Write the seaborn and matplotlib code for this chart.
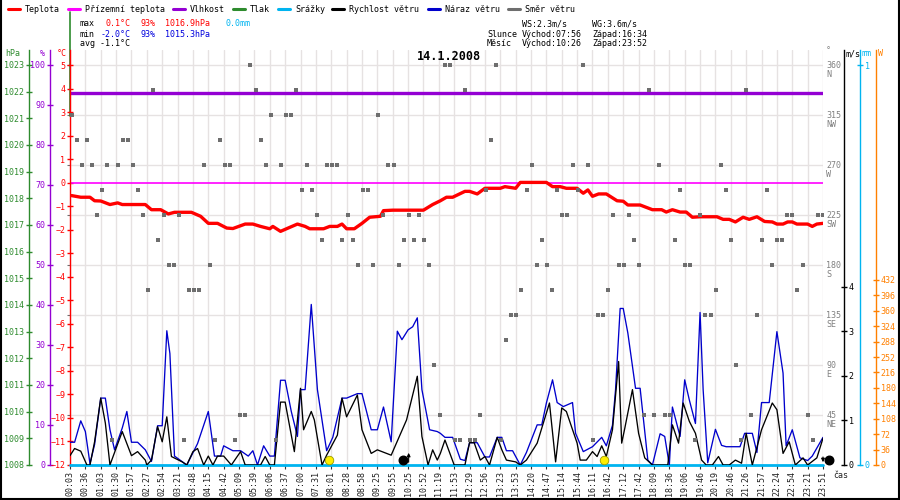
import numpy as np
import matplotlib
matplotlib.use("Agg")
import matplotlib.pyplot as plt
import matplotlib.transforms as mtransforms
from matplotlib.lines import Line2D
import seaborn as sns

sns.set_theme(style="white")
plt.rcParams["font.family"] = ["DejaVu Sans Mono", "DejaVu Sans"]
plt.rcParams["font.size"] = 6

W, H = 900, 500

### data ###
time_labels = ["00:03", "00:36", "01:03", "01:30", "01:57", "02:27", "02:54", "03:21", "03:48", "04:15",
               "04:42", "05:09", "05:39", "06:06", "06:37", "07:00", "07:31", "08:01", "08:28", "08:58",
               "09:25", "09:55", "10:25", "10:52", "11:19", "11:53", "12:29", "12:56", "13:23", "13:53",
               "14:20", "14:47", "15:14", "15:44", "16:11", "16:42", "17:12", "17:42", "18:09", "18:36",
               "19:06", "19:46", "20:19", "20:46", "21:26", "21:57", "22:24", "22:54", "23:21", "23:51"]
label_step = 10  # samples between two labelled ticks

# temperature (sample index, degC)
temp_pos = [1, 7, 13, 16, 20, 26, 31, 34, 49, 53, 59, 64, 68, 79, 85, 90, 96, 102, 106, 114,
            119, 124, 130, 132, 137, 143, 148, 153, 156, 165, 169, 174, 177, 180, 185, 190, 195, 202, 204, 210,
            230, 236, 241, 245, 249, 257, 260, 265, 270, 280, 283, 290, 293, 310, 314, 319, 323, 330, 334, 337,
            340, 344, 349, 356, 360, 363, 371, 375, 379, 385, 388, 392, 397, 401, 405, 410, 421, 425, 429, 433,
            438, 442, 447, 452, 457, 460, 464, 467, 470, 473, 480, 483, 486, 490]
temp_val = [-0.55, -0.62, -0.62, -0.77, -0.78, -0.93, -0.86, -0.93, -0.93, -1.15,
            -1.15, -1.33, -1.26, -1.26, -1.43, -1.73, -1.73, -1.93, -1.95, -1.76,
            -1.76, -1.86, -1.96, -1.86, -2.07, -1.9, -1.76, -1.86, -1.96, -1.96,
            -1.86, -1.86, -1.76, -1.96, -1.96, -1.73, -1.47, -1.43, -1.19, -1.17,
            -1.17, -0.93, -0.77, -0.62, -0.62, -0.37, -0.37, -0.48, -0.24, -0.24,
            -0.17, -0.24, 0.01, 0.01, -0.17, -0.17, -0.24, -0.24, -0.45, -0.31,
            -0.58, -0.48, -0.48, -0.77, -0.79, -0.95, -0.95, -1.05, -1.15, -1.15,
            -1.25, -1.15, -1.25, -1.25, -1.47, -1.45, -1.45, -1.56, -1.56, -1.67,
            -1.47, -1.56, -1.45, -1.65, -1.67, -1.76, -1.76, -1.67, -1.67, -1.76,
            -1.76, -1.86, -1.76, -1.73]

# constant series
feel_pos = [0, 490]
feel_val = [0.0, 0.0]
hum_pos = [0, 490]
hum_val = [93, 93]
rain_pos = [0, 490]
rain_val = [0.0, 0.0]
tlak_edge = [1021.1, 1025.0]

# wind gust (m/s)
gust_pos = [0, 3, 7, 10, 13, 16, 20, 23, 26, 29, 34, 37, 40, 44, 49, 53, 57, 60, 63, 65,
            68, 76, 83, 90, 94, 98, 100, 106, 111, 116, 119, 122, 126, 130, 133, 137, 140, 144, 148, 150,
            153, 157, 161, 167, 171, 177, 180, 187, 190, 196, 200, 204, 209, 213, 216, 220, 223, 226, 229, 234,
            239, 241, 244, 249, 254, 257, 260, 265, 270, 273, 278, 281, 284, 288, 293, 297, 304, 307, 310, 314,
            317, 321, 327, 329, 334, 340, 346, 349, 353, 355, 358, 360, 363, 368, 371, 376, 379, 384, 387, 390,
            392, 397, 400, 403, 407, 410, 412, 415, 420, 424, 427, 436, 439, 444, 447, 450, 455, 460, 464, 466,
            470, 475, 480, 483, 490]
gust_val = [0.51, 0.51, 0.99, 0.75, 0.03, 0.46, 1.5, 1.5, 0.79, 0.34, 0.83, 1.2, 0.51, 0.51, 0.34,
            0.08, 0.88, 0.88, 3.01, 2.5, 0.2, 0.0, 0.48, 1.2, 0.2, 0.2, 0.43, 0.32, 0.32, 0.2,
            0.32, 0.0, 0.43, 0.2, 0.2, 1.9, 1.9, 1.2, 0.64, 1.69, 1.69, 3.6, 1.69, 0.32, 0.62,
            1.5, 1.5, 1.6, 1.6, 0.79, 0.79, 1.3, 0.52, 3.0, 2.81, 3.03, 3.1, 3.3, 1.69, 0.79,
            0.75, 0.71, 0.62, 0.62, 0.13, 0.1, 0.5, 0.5, 0.18, 0.18, 0.62, 0.62, 0.32, 0.32, 0.0,
            0.28, 0.9, 0.9, 1.39, 1.91, 1.4, 1.31, 1.4, 0.71, 0.3, 0.41, 0.62, 0.43, 0.89, 1.69,
            3.51, 3.51, 2.96, 1.72, 1.72, 0.11, 0.0, 0.7, 0.64, 0.0, 1.3, 0.64, 1.91, 1.46, 0.93,
            3.42, 1.69, 0.05, 0.8, 0.44, 0.41, 0.41, 0.71, 0.71, 0.28, 1.4, 1.4, 2.99, 2.06, 0.43,
            0.79, 0.16, 0.1, 0.2, 0.62]

# wind speed (m/s)
speed_pos = [0, 3, 7, 11, 13, 16, 20, 23, 26, 34, 40, 44, 49, 50, 53, 57, 60, 63, 66, 73,
             76, 80, 83, 87, 90, 93, 96, 100, 105, 111, 114, 124, 127, 130, 133, 137, 140, 146, 150, 152,
             157, 159, 164, 167, 174, 177, 180, 187, 190, 196, 200, 209, 219, 226, 229, 233, 236, 239, 241, 244,
             250, 257, 260, 263, 267, 270, 273, 278, 281, 284, 290, 293, 297, 304, 312, 316, 320, 323, 330, 332,
             336, 340, 343, 346, 349, 353, 357, 359, 361, 366, 370, 374, 379, 389, 392, 396, 399, 403, 407, 411,
             414, 418, 422, 425, 429, 433, 437, 440, 444, 450, 457, 460, 464, 468, 472, 477, 480, 486, 490]
speed_val = [0.21, 0.37, 0.31, 0, 0, 0.52, 1.5, 0.94, 0, 0.75, 0.21, 0.3, 0.11, 0, 0.11,
             0.86, 0.52, 1.08, 0.19, 0.07, 0, 0.3, 0.37, 0, 0.2, 0, 0.2, 0.2, 0, 0.3,
             0, 0, 0.19, 0, 0, 1.41, 1.41, 0.3, 1.72, 0.79, 1.2, 1.01, 0, 0.22, 0.67,
             1.5, 1.08, 1.57, 0.79, 0.26, 0.34, 0.22, 1.01, 1.99, 0.64, 0, 0.34, 0.11, 0.26, 0.56,
             0, 0, 0.5, 0.5, 0.11, 0.19, 0, 0.62, 0.34, 0.11, 0.07, 0, 0.11, 0.49, 1.39,
             0.07, 1.28, 1.2, 0.49, 0.11, 0.11, 0.3, 0.19, 0.43, 0.19, 0.79, 2.32, 0.49, 0.82, 1.69,
             0.71, 0.16, 0, 0, 0.9, 0.49, 1.39, 0.98, 0.71, 0.11, 0, 0, 0.19, 0, 0,
             0.11, 0.04, 0.71, 0, 0.79, 1.39, 1.24, 0.26, 0.52, 0, 0.16, 0, 0.16, 0.6]

# wind direction (deg), evenly sampled over the day
dir_val = [315, 292.5, 270, 292.5, 270, 225, 247.5, 270, 22.5, 270,
           292.5, 292.5, 270, 247.5, 225, 157.5, 337.5, 202.5, 225, 180,
           180, 225, 22.5, 157.5, 157.5, 157.5, 270, 180, 22.5, 292.5,
           270, 270, 22.5, 45, 45, 360, 337.5, 292.5, 270, 315,
           22.5, 270, 315, 315, 337.5, 247.5, 270, 247.5, 225, 202.5,
           270, 270, 270, 202.5, 225, 202.5, 180, 247.5, 247.5, 180,
           315, 225, 270, 270, 180, 202.5, 225, 202.5, 225, 202.5,
           180, 90, 45, 360, 360, 22.5, 22.5,
           337.5, 22.5, 22.5, 45, 247.5, 292.5, 360, 22.5, 112.5,
           135, 135, 157.5, 247.5, 270, 180, 202.5, 180, 157.5, 247.5,
           225, 225, 270, 247.5, 360, 270, 22.5, 135, 135, 157.5,
           225, 180, 180, 225, 202.5, 180, 45, 337.5, 45, 270,
           45, 45, 202.5, 247.5, 180, 180, 22.5, 225, 135, 135,
           157.5, 270, 247.5, 202.5, 90, 22.5, 337.5, 45, 135, 202.5,
           247.5, 180, 202.5, 202.5, 225, 225, 157.5, 180, 45, 22.5,
           225, 225]
dir_pos = np.linspace(1, 490, len(dir_val))
dir_ticks = [45, 90, 135, 180, 225, 270, 315, 360]
dir_names = ["NE", "E", "SE", "S", "SW", "W", "NW", "N"]

sun_rise, sun_set = "07:56", "16:34"
moon_rise, moon_set = "10:26", "23:52"
t_max, t_min, t_avg = 0.1, -2.0, -1.1
hum_max, hum_min = 93, 93
p_max, p_min = 1016.9, 1015.3
rain_sum = 0.0
ws, wg = 2.3, 3.6

C_TEMP = "#ff0000"
C_FEEL = "#ff00ff"
C_HUM = "#9400d3"
C_PRES = "#2e8b2e"
C_RAIN = "#00b4f0"
C_SPEED = "#000000"
C_GUST = "#0000cc"
C_DIR = "#6e6e6e"
C_SUN = "#ff8000"
CHAR = 5.02  # px per monospace character


def fx(x):
    return x / W


def fy(y):
    return 1 - y / H


def to_min(t):
    h, m = t.split(":")
    return int(h) * 60 + int(m)


label_min = [to_min(t) for t in time_labels]
label_pos = np.arange(len(time_labels)) * label_step


def time_pos(t):
    return float(np.interp(to_min(t), label_min, label_pos))


def put(x0, col, y, s, color="black", **kw):
    fig.text(fx(x0 + col * CHAR), fy(y), s, ha="left", va="center", fontsize=6, color=color, **kw)


fig = plt.figure(figsize=(9, 5), dpi=100, facecolor="white")
ax = fig.add_axes([fx(70), 35 / H, 753 / W, 415 / H])
ax.set_xlim(0, label_pos[-1])
ax.set_ylim(0, 373.5)
for sp in ax.spines.values():
    sp.set_visible(False)
ax.set_xticks(label_pos)
ax.set_xticklabels(time_labels, rotation=90)
ax.tick_params(axis="x", bottom=True, length=3, width=0.8, color="#333", labelcolor="#222",
               labelsize=6, pad=1)
ax.set_yticks(dir_ticks)
ax.yaxis.tick_right()
ax.set_yticklabels([])
ax.tick_params(axis="y", right=True, length=2, width=0.8, color=C_DIR)
ax.grid(True, color="#e6e2e2", lw=1)


def side_axis(side, pos, color, lim, ticks, labels=None):
    a = ax.twinx()
    for sp in a.spines.values():
        sp.set_visible(False)
    a.spines[side].set_visible(True)
    a.spines[side].set_position(("axes", pos))
    a.spines[side].set_color(color)
    a.spines[side].set_linewidth(1.0)
    a.yaxis.set_ticks_position(side)
    a.set_ylim(*lim)
    a.set_yticks(ticks)
    if labels is not None:
        a.set_yticklabels(labels)
    a.tick_params(axis="y", direction="inout", length=5, width=1, colors=color,
                  labelsize=6, pad=1)
    a.grid(False)
    return a


# left axes
ax_p = side_axis("left", (29 - 70) / 753, C_PRES, (1008, 1023.5625), range(1008, 1024))
ax_h = side_axis("left", (50 - 70) / 753, C_HUM, (0, 103.75), range(0, 101, 10))
ax_t = side_axis("left", 0.0, C_TEMP, (-12, 5.6375), range(-12, 6))
# right axes
ax_r = side_axis("right", (860 - 70) / 753, C_RAIN, (0, 1.0375), [0, 1])
ax_w = side_axis("right", (844 - 70) / 753, C_SPEED, (0, 9.305), range(0, 5))
ax_s = side_axis("right", (876 - 70) / 753, C_SUN, (0, 969), range(0, 433, 36))

# series
sns.lineplot(x=hum_pos, y=hum_val, ax=ax_h, color=C_HUM, lw=2.4, estimator=None, sort=False)
sns.lineplot(x=[0, 0], y=tlak_edge, ax=ax_p, color=C_PRES, lw=1.2, estimator=None, sort=False,
             clip_on=False)
sns.lineplot(x=feel_pos, y=feel_val, ax=ax_t, color=C_FEEL, lw=1.2, estimator=None, sort=False)
sns.lineplot(x=temp_pos, y=temp_val, ax=ax_t, color=C_TEMP, lw=2.4, estimator=None, sort=False)
sns.lineplot(x=rain_pos, y=rain_val, ax=ax_r, color=C_RAIN, lw=2.0, estimator=None, sort=False,
             clip_on=False)
sns.lineplot(x=gust_pos, y=gust_val, ax=ax_w, color=C_GUST, lw=0.95, estimator=None, sort=False)
sns.lineplot(x=speed_pos, y=speed_val, ax=ax_w, color=C_SPEED, lw=0.95, estimator=None, sort=False)

ax_d = ax.twinx()
ax_d.set_ylim(ax.get_ylim())
ax_d.set_yticks([])
for sp in ax_d.spines.values():
    sp.set_visible(False)
sns.scatterplot(x=dir_pos, y=dir_val, ax=ax_d, marker="s", s=11, color=C_DIR, linewidth=0)

for a in (ax, ax_p, ax_h, ax_t, ax_r, ax_w, ax_s, ax_d):
    a.set_xlabel("")
    a.set_ylabel("")

# direction labels
dtrans = mtransforms.blended_transform_factory(ax_d.transAxes, ax_d.transData)
for deg, name in zip(dir_ticks, dir_names):
    ax_d.annotate(f"{deg}", xy=(1, deg), xycoords=dtrans, xytext=(2.5, 0), textcoords="offset points",
                  ha="left", va="center", color="#808080", fontsize=6)
    ax_d.annotate(name, xy=(1, deg), xycoords=dtrans, xytext=(2.5, -7), textcoords="offset points",
                  ha="left", va="center", color="#808080", fontsize=6)

# sun and moon marks
btrans = mtransforms.blended_transform_factory(ax_d.transData, ax_d.transAxes)
for t in (sun_rise, sun_set):
    ax_d.scatter([time_pos(t)], [0.013], transform=btrans, s=38, color="#ffee00",
                 edgecolor="#999900", linewidth=0.6, zorder=6, clip_on=False)
mr, ms = time_pos(moon_rise), time_pos(moon_set)
ax_d.scatter([mr], [0.013], s=38, color="black", zorder=6, clip_on=False,
             transform=mtransforms.offset_copy(btrans, fig=fig, x=-6, y=0, units="dots"))
ax_d.scatter([ms], [0.013], s=38, color="black", zorder=6, clip_on=False,
             transform=mtransforms.offset_copy(btrans, fig=fig, x=6, y=0, units="dots"))
ax_d.annotate("", xy=(mr, 0.036), xytext=(mr, 0.0), xycoords=btrans, textcoords=btrans,
              arrowprops=dict(arrowstyle="-|>", lw=0.8, color="black", mutation_scale=5))
ax_d.annotate("", xy=(ms, 0.0), xytext=(ms, 0.026), xycoords=btrans, textcoords=btrans,
              arrowprops=dict(arrowstyle="-|>", lw=0.8, color="black", mutation_scale=5))

# axis titles
fig.text(fx(13), fy(54), "hPa", color=C_PRES, ha="center", va="center", fontsize=6)
fig.text(fx(42), fy(54), "%", color=C_HUM, ha="center", va="center", fontsize=6)
fig.text(fx(62), fy(54), "°C", color=C_TEMP, ha="center", va="center", fontsize=6)
fig.text(fx(828), fy(51), "°", color="#808080", ha="center", va="center", fontsize=6)
fig.text(fx(846), fy(54), "m/s", color=C_SPEED, ha="left", va="center", fontsize=6)
fig.text(fx(862), fy(54), "mm", color=C_RAIN, ha="left", va="center", fontsize=6)
fig.text(fx(878), fy(54), "W", color=C_SUN, ha="left", va="center", fontsize=6)
fig.text(fx(833), fy(475), "čas", color="#222", ha="left", va="center", fontsize=6)

# title
fig.text(fx(449), fy(57), "14.1.2008", ha="center", va="center", fontsize=8.5,
         fontweight="bold", color="black")

# legend row
legend_items = [("Teplota", C_TEMP), ("Přízemní teplota", C_FEEL), ("Vlhkost", C_HUM), ("Tlak", C_PRES),
                ("Srážky", C_RAIN), ("Rychlost větru", C_SPEED), ("Náraz větru", C_GUST),
                ("Směr větru", C_DIR)]
legend_x = [25, 85, 190, 250, 295, 349, 445, 525]
for (name, col), tx in zip(legend_items, legend_x):
    fig.add_artist(Line2D([fx(tx - 17), fx(tx - 5)], [fy(9), fy(9)], color=col, lw=2.2,
                          transform=fig.transFigure))
    fig.text(fx(tx), fy(9), name, ha="left", va="center", fontsize=6, color="black")

# stats block (monospace columns)
put(80, 0, 24, "max")
put(80, 5, 24, f"{t_max:.1f}°C", C_TEMP)
put(80, 12, 24, f"{hum_max}%", C_TEMP)
put(80, 17, 24, f"{p_max:.1f}hPa", C_TEMP)
put(80, 29, 24, f"{rain_sum:.1f}mm", C_RAIN)
put(80, 0, 34, "min")
put(80, 4, 34, f"{t_min:.1f}°C", "#0000dd")
put(80, 12, 34, f"{hum_min}%", "#0000dd")
put(80, 17, 34, f"{p_min:.1f}hPa", "#0000dd")
put(80, 0, 44, f"avg {t_avg:.1f}°C")

put(487, 7, 24, f"WS:{ws:.1f}m/s")
put(487, 21, 24, f"WG:{wg:.1f}m/s")
put(487, 0, 34, "Slunce")
put(487, 7, 34, f"Východ:{sun_rise}")
put(487, 21, 34, f"Západ:{sun_set}")
put(487, 0, 44, "Měsíc")
put(487, 7, 44, f"Východ:{moon_rise}")
put(487, 21, 44, f"Západ:{moon_set}")

# image frame
for xs, ys in (([0.001, 0.001], [0, 1]), ([0.999, 0.999], [0, 1]), ([0, 1], [0.002, 0.002])):
    fig.add_artist(Line2D(xs, ys, color="black", lw=1.5, transform=fig.transFigure))

fig.savefig("out.png", dpi=100, facecolor="white")
